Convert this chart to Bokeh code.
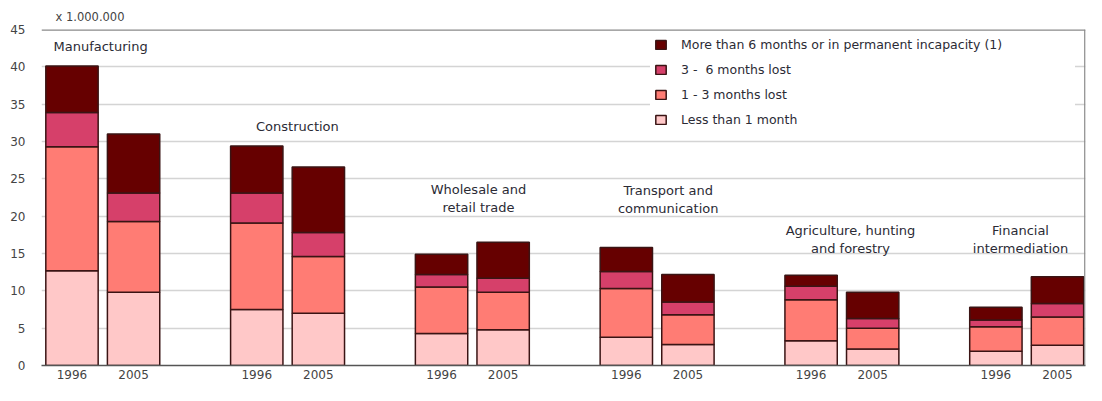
from bokeh.plotting import figure
from bokeh.models import (ColumnDataSource, Range1d, FixedTicker, Legend, LegendItem,
                          Span, Title)
from bokeh.core.properties import value
from bokeh.embed import file_html
from bokeh.resources import INLINE

# ---------------- data ----------------
sectors = ["Manufacturing", "Construction", "Wholesale and\nretail trade",
           "Transport and\ncommunication", "Agriculture, hunting\nand forestry",
           "Financial\nintermediation"]
years = ["1996", "2005"]
series = ["Less than 1 month", "1 - 3 months lost", "3 -  6 months lost",
          "More than 6 months or in permanent incapacity (1)"]

# millions, one value per sector
less_1m_1996 = [12.7, 7.5, 4.3, 3.8, 3.3, 1.9]
less_1m_2005 = [9.8, 7.0, 4.8, 2.8, 2.2, 2.7]
m1_3_1996 = [16.6, 11.6, 6.2, 6.5, 5.5, 3.3]
m1_3_2005 = [9.5, 7.6, 5.0, 4.0, 2.8, 3.8]
m3_6_1996 = [4.6, 4.0, 1.7, 2.3, 1.8, 0.9]
m3_6_2005 = [3.8, 3.2, 1.9, 1.7, 1.3, 1.8]
more_6m_1996 = [6.2, 6.3, 2.7, 3.2, 1.5, 1.7]
more_6m_2005 = [7.9, 8.8, 4.8, 3.7, 3.5, 3.6]

y_ticks = [0, 5, 10, 15, 20, 25, 30, 35, 40, 45]
unit_label = "x 1.000.000"

# ---------------- layout helpers ----------------
PITCH = 30
OFF = 5
xs, labels_year, s0, s1, s2, s3 = [], [], [], [], [], []
for g in range(len(sectors)):
    for yi, yr in enumerate(years):
        xs.append(g * PITCH + (-OFF if yi == 0 else OFF))
        labels_year.append(yr)
        if yi == 0:
            s0.append(less_1m_1996[g]); s1.append(m1_3_1996[g])
            s2.append(m3_6_1996[g]); s3.append(more_6m_1996[g])
        else:
            s0.append(less_1m_2005[g]); s1.append(m1_3_2005[g])
            s2.append(m3_6_2005[g]); s3.append(more_6m_2005[g])

keys = ["s0", "s1", "s2", "s3"]
src = ColumnDataSource(dict(x=xs, s0=s0, s1=s1, s2=s2, s3=s3))
colors = ["#FFC8C8", "#FF7C74", "#D6406A", "#660000"]

p = figure(width=1086, height=385, output_backend="svg", toolbar_location=None,
           x_range=Range1d(-9.95, 159.55), y_range=Range1d(0, 45),
           min_border_left=41, min_border_right=1, min_border_top=29, min_border_bottom=20)
p.outline_line_color = None
p.background_fill_color = "white"
p.border_fill_color = "white"

p.add_layout(Title(text=unit_label, align="left", offset=14, standoff=12,
                   text_font="DejaVu Sans", text_font_size="11.5px",
                   text_font_style="normal", text_color="#444444"), "above")

rs = p.vbar_stack(keys, x="x", width=8.5, source=src, fill_color=colors,
                  line_color="#3a1414", line_width=1.5)

# grid & axes
p.xgrid.visible = False
p.ygrid.ticker = FixedTicker(ticks=y_ticks)
p.ygrid.grid_line_color = "#d4d4d4"
p.ygrid.grid_line_width = 1.5

p.yaxis.ticker = FixedTicker(ticks=y_ticks)
p.yaxis.axis_line_color = None
p.yaxis.major_tick_line_color = None
p.yaxis.minor_tick_line_color = None
p.yaxis.major_tick_out = 0
p.yaxis.major_tick_in = 0
p.yaxis.major_label_standoff = 16
p.yaxis.major_label_text_font = "DejaVu Sans"
p.yaxis.major_label_text_font_size = "12px"
p.yaxis.major_label_text_color = "#444444"

p.xaxis.ticker = FixedTicker(ticks=xs)
p.xaxis.major_label_overrides = {x: l for x, l in zip(xs, labels_year)}
p.xaxis.axis_line_color = "#555555"
p.xaxis.axis_line_width = 1.5
p.xaxis.major_tick_line_color = None
p.xaxis.minor_tick_line_color = None
p.xaxis.major_tick_out = 0
p.xaxis.major_tick_in = 0
p.xaxis.major_label_standoff = 4
p.xaxis.major_label_text_font = "DejaVu Sans"
p.xaxis.major_label_text_font_size = "12px"
p.xaxis.major_label_text_color = "#444444"

p.add_layout(Span(location=45, dimension="width", line_color="#8a8a8a", line_width=2.5))
p.add_layout(Span(location=159.45, dimension="height", line_color="#8a8a8a", line_width=1.5))

# sector labels
lab_x = [-8.0, 31.6, 61.0, 91.8, 121.4, 149.0]
lab_y = [42.7, 32.0, 22.3, 22.2, 16.9, 16.9]
lab_align = ["left", "center", "center", "center", "center", "center"]
p.text(x=lab_x, y=lab_y, text=sectors, text_align=lab_align, text_baseline="middle",
       text_font=value("DejaVu Sans"), text_font_size="13px", text_color="#2b2b35",
       text_line_height=1.2)

# legend
items = [LegendItem(label=series[i], renderers=[rs[i]]) for i in [3, 2, 1, 0]]
legend = Legend(items=items, location=(609, 232), orientation="vertical",
                background_fill_color="white", background_fill_alpha=1.0,
                border_line_alpha=0, padding=4, spacing=6, label_height=19,
                glyph_height=11, glyph_width=13, label_standoff=14, label_width=390,
                label_text_font="DejaVu Sans", label_text_font_size="12.5px",
                label_text_color="#2b2b35", margin=0)
p.add_layout(legend)

open("out.html", "w").write(file_html(p, INLINE))
